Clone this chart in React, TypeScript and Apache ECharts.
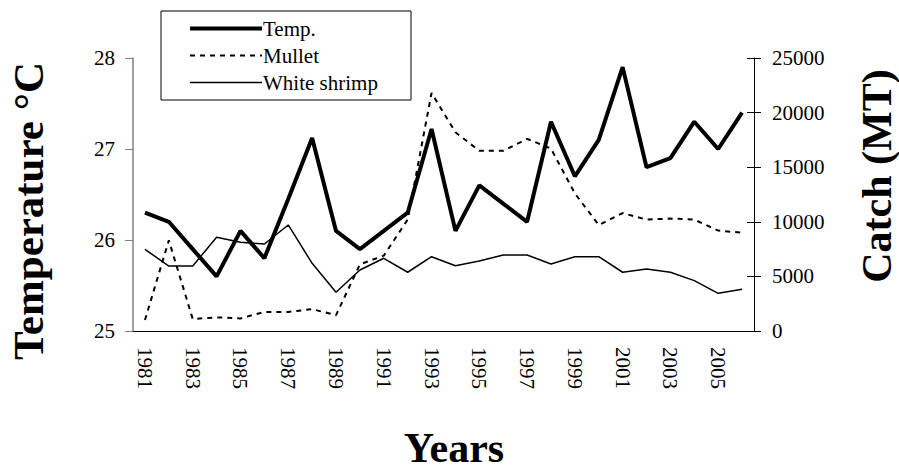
import React, { useEffect, useRef } from "react";
import * as echarts from "echarts";

const years = ["1981","1982","1983","1984","1985","1986","1987","1988","1989","1990","1991","1992","1993","1994","1995","1996","1997","1998","1999","2000","2001","2002","2003","2004","2005","2006"];
const temp = [26.3, 26.2, 25.9, 25.6, 26.1, 25.8, 26.45, 27.12, 26.1, 25.9, 26.1, 26.3, 27.22, 26.1, 26.6, 26.4, 26.2, 27.3, 26.7, 27.1, 27.9, 26.8, 26.9, 27.3, 27.0, 27.4];
const mullet = [1000, 8300, 1100, 1250, 1150, 1750, 1750, 2000, 1450, 6100, 6900, 10200, 21800, 18200, 16500, 16500, 17600, 16700, 12600, 9700, 10800, 10200, 10300, 10200, 9200, 9000];
const shrimp = [7480, 5950, 5950, 8580, 8120, 7970, 9710, 6200, 3550, 5590, 6660, 5380, 6800, 5980, 6410, 6960, 6960, 6130, 6800, 6800, 5380, 5680, 5380, 4610, 3450, 3820];
const tempTicks = { min: 25, max: 28, interval: 1 };
const catchTicks = { min: 0, max: 25000, interval: 5000 };

const FONT = "'Liberation Serif', 'Times New Roman', serif";

export default function App() {
  const ref = useRef<HTMLDivElement>(null);
  useEffect(() => {
    if (!ref.current) return;
    const chart = echarts.init(ref.current, null, { renderer: "svg" });
    const tickLabel = { color: "#000", fontSize: 21, fontFamily: FONT };
    chart.setOption({
      animation: false,
      backgroundColor: "#fff",
      grid: { left: 133, right: 145, top: 58, bottom: 139 },
      legend: {
        orient: "vertical",
        left: 188,
        top: 18,
        padding: 0,
        itemWidth: 72,
        itemHeight: 14,
        itemGap: 6,
        itemStyle: { opacity: 0 },
        textStyle: { color: "#000", fontSize: 21, fontFamily: FONT, padding: [0, 0, 0, -4] },
        data: [
          { name: "Temp.", lineStyle: { width: 4 } },
          { name: "Mullet", lineStyle: { width: 2 } },
          { name: "White shrimp", lineStyle: { width: 1.5 } },
        ],
      },
      graphic: [
        {
          type: "rect",
          shape: { x: 161, y: 11, width: 250, height: 89 },
          style: { fill: "none", stroke: "#000", lineWidth: 1 },
          z: 10,
        },
        {
          type: "text",
          x: 28,
          y: 211,
          rotation: Math.PI / 2,
          style: { text: "Temperature °C", font: `bold 43px ${FONT}`, fill: "#000", textAlign: "center", textVerticalAlign: "middle" },
        },
        {
          type: "text",
          x: 877,
          y: 176,
          rotation: Math.PI / 2,
          style: { text: "Catch (MT)", font: `bold 42px ${FONT}`, fill: "#000", textAlign: "center", textVerticalAlign: "middle" },
        },
        {
          type: "text",
          x: 454,
          y: 448,
          style: { text: "Years", font: `bold 42px ${FONT}`, fill: "#000", textAlign: "center", textVerticalAlign: "middle" },
        },
      ],
      xAxis: {
        type: "category",
        data: years,
        boundaryGap: true,
        axisLine: { lineStyle: { color: "#000", width: 1 } },
        axisTick: { interval: 0, length: 6, lineStyle: { color: "#000" } },
        axisLabel: { ...tickLabel, interval: 1, rotate: -90, margin: 16 },
        splitLine: { show: false },
      },
      yAxis: [
        {
          type: "value",
          position: "left",
          ...tempTicks,
          axisLine: { show: true, lineStyle: { color: "#808080", width: 1.5 } },
          axisTick: { show: true, length: 8, lineStyle: { color: "#808080" } },
          axisLabel: { ...tickLabel, margin: 18 },
          splitLine: { show: false },
        },
        {
          type: "value",
          position: "right",
          ...catchTicks,
          axisLine: { show: true, lineStyle: { color: "#000", width: 1 } },
          axisTick: { show: true, length: 7, lineStyle: { color: "#000" } },
          axisLabel: { ...tickLabel, margin: 18, formatter: (v: number) => String(v) },
          splitLine: { show: false },
        },
        {
          type: "value",
          position: "right",
          ...catchTicks,
          axisLine: { show: false },
          axisTick: { show: true, inside: true, length: 7, lineStyle: { color: "#000" } },
          axisLabel: { show: false },
          splitLine: { show: false },
        },
      ],
      series: [
        {
          name: "Temp.",
          type: "line",
          yAxisIndex: 0,
          data: temp,
          symbol: "none",
          showSymbol: false,
          color: "#000",
          lineStyle: { color: "#000", width: 4 },
          z: 5,
        },
        {
          name: "Mullet",
          type: "line",
          yAxisIndex: 1,
          data: mullet,
          symbol: "none",
          showSymbol: false,
          color: "#000",
          lineStyle: { color: "#000", width: 2, type: [5, 5] },
          z: 4,
        },
        {
          name: "White shrimp",
          type: "line",
          yAxisIndex: 1,
          data: shrimp,
          symbol: "none",
          showSymbol: false,
          color: "#000",
          lineStyle: { color: "#000", width: 1.5 },
          z: 3,
        },
      ],
    });
    return () => chart.dispose();
  }, []);
  return <div ref={ref} style={{ position: "absolute", left: 0, top: 0, width: 899, height: 470 }} />;
}
